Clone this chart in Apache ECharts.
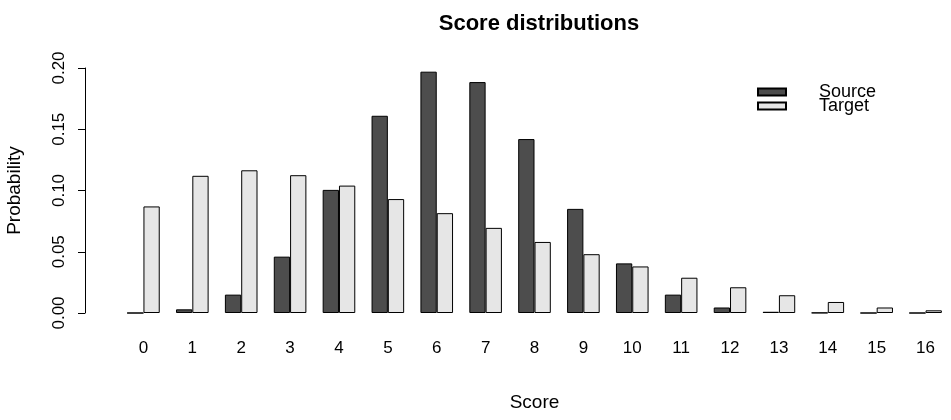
<!DOCTYPE html>
<html>
<head>
<meta charset="utf-8">
<script src="https://cdn.jsdelivr.net/npm/echarts@6/dist/echarts.min.js"></script>
<style>html,body{margin:0;padding:0;background:#fff;}#c{width:951px;height:420px;}</style>
</head>
<body>
<div id="c"></div>
<script>
var categories = ['0','1','2','3','4','5','6','7','8','9','10','11','12','13','14','15','16'];
var sourceValues = [0, 0.003, 0.015, 0.046, 0.1005, 0.161, 0.197, 0.1885, 0.142, 0.085, 0.0405, 0.015, 0.0045, 0.001, 0.0002, 0, 0];
var targetValues = [0.087, 0.112, 0.1165, 0.1125, 0.104, 0.093, 0.0815, 0.0695, 0.058, 0.048, 0.038, 0.0288, 0.021, 0.0145, 0.009, 0.0045, 0.0022];
var yTicks = [0, 0.05, 0.10, 0.15, 0.20];

var font = 'Liberation Sans, Arial, Helvetica, sans-serif';
var chart = echarts.init(document.getElementById('c'), null, {renderer: 'canvas'});
chart.setOption({
  animation: false,
  backgroundColor: '#ffffff',
  title: {
    text: 'Score distributions',
    left: 534, top: 8, textAlign: 'center',
    textStyle: {fontFamily: font, fontSize: 22, fontWeight: 'bold', color: '#000'}
  },
  legend: [{
    data: [{name: 'Source', icon: 'rect'}],
    left: 757, top: 83, itemWidth: 28, itemHeight: 7, padding: 0,
    selectedMode: false,
    textStyle: {fontFamily: font, fontSize: 18, color: '#000', padding: [0, 0, 0, 28]}
  }, {
    data: [{name: 'Target', icon: 'rect'}],
    left: 757, top: 97, itemWidth: 28, itemHeight: 7, padding: 0,
    selectedMode: false,
    textStyle: {fontFamily: font, fontSize: 18, color: '#000', padding: [0, 0, 0, 28]}
  }],
  grid: {left: 119, right: 1, top: 68, bottom: 107, containLabel: false, outerBoundsMode: 'none'},
  xAxis: {
    type: 'category',
    data: categories,
    axisLine: {show: false},
    axisTick: {show: false},
    axisLabel: {fontFamily: font, fontSize: 17, color: '#000', margin: 27, interval: 0},
    name: 'Score', nameLocation: 'middle', nameGap: 80,
    nameTextStyle: {fontFamily: font, fontSize: 19, color: '#000'}
  },
  yAxis: {
    type: 'value',
    min: 0, max: 0.2, interval: 0.05,
    offset: 34,
    axisLine: {show: true, lineStyle: {color: '#000', width: 1}},
    axisTick: {show: true, length: 7, lineStyle: {color: '#000', width: 1}},
    splitLine: {show: false},
    axisLabel: {
      fontFamily: font, fontSize: 17, color: '#000', rotate: 90, margin: 17,
      formatter: function (v) { return v.toFixed(2); }
    },
    name: 'Probability', nameLocation: 'middle', nameGap: 61, nameRotate: 90,
    nameTextStyle: {fontFamily: font, fontSize: 19, color: '#000'}
  },
  series: [{
    name: 'Source', type: 'bar', data: sourceValues,
    barWidth: 16.3, barGap: '0%',
    itemStyle: {color: '#4d4d4d', borderColor: '#000', borderWidth: 1}
  }, {
    name: 'Target', type: 'bar', data: targetValues,
    barWidth: 16.3, barGap: '0%',
    itemStyle: {color: '#e6e6e6', borderColor: '#000', borderWidth: 1}
  }]
});
</script>
</body>
</html>
